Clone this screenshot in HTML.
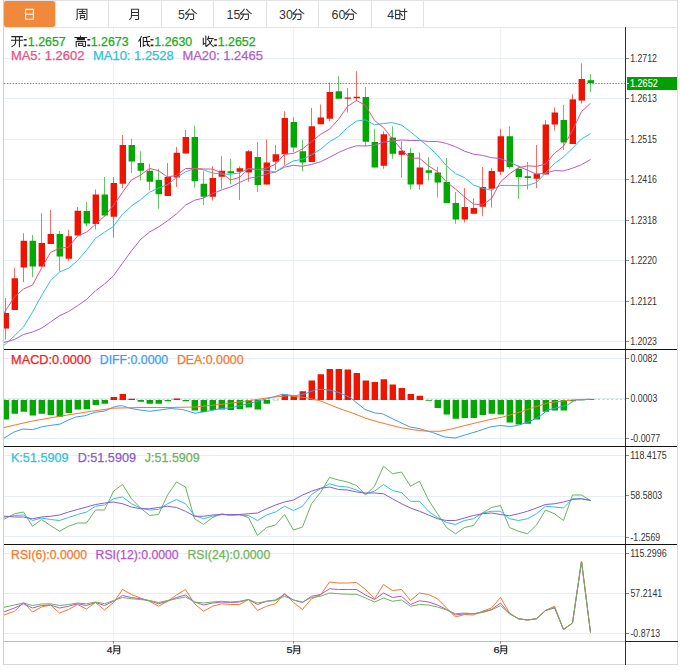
<!DOCTYPE html><html><head><meta charset="utf-8"><style>html,body{margin:0;padding:0;background:#fff;width:680px;height:672px;overflow:hidden}svg{display:block}</style></head><body><svg width="680" height="672" viewBox="0 0 680 672" font-family='"Liberation Sans", sans-serif' shape-rendering="auto">
<rect width="680" height="672" fill="#fff"/>
<line x1="3" y1="0.5" x2="678" y2="0.5" stroke="#e3e3e3"/>
<line x1="3.5" y1="0" x2="3.5" y2="665" stroke="#cfcfcf"/>
<line x1="677.5" y1="0" x2="677.5" y2="665" stroke="#dcdcdc"/>
<line x1="3" y1="664.5" x2="678" y2="664.5" stroke="#d8d8d8"/>
<rect x="4" y="1" width="51" height="26" rx="2" fill="#f0893c"/>
<line x1="55.5" y1="1" x2="55.5" y2="27" stroke="#e2e2e2"/>
<line x1="108.5" y1="1" x2="108.5" y2="27" stroke="#e2e2e2"/>
<line x1="161.5" y1="1" x2="161.5" y2="27" stroke="#e2e2e2"/>
<line x1="213.5" y1="1" x2="213.5" y2="27" stroke="#e2e2e2"/>
<line x1="266.5" y1="1" x2="266.5" y2="27" stroke="#e2e2e2"/>
<line x1="318.5" y1="1" x2="318.5" y2="27" stroke="#e2e2e2"/>
<line x1="371.5" y1="1" x2="371.5" y2="27" stroke="#e2e2e2"/>
<line x1="423.5" y1="1" x2="423.5" y2="27" stroke="#e2e2e2"/>
<line x1="3" y1="27.5" x2="678" y2="27.5" stroke="#e2e6ea"/>
<path transform="translate(25.1,8.9) scale(1.0,1.0)" d="M0.5,0.5H8.3V10.3H0.5Z M0.5,5.4H8.3" fill="none" stroke="#fff" stroke-width="1.1" stroke-linecap="square"/>
<path transform="translate(76.4,8.9) scale(1.0,1.0)" d="M0.8,0.4V9.2Q0.8,10.2 0,10.6 M0.8,0.4H10.5V10.2Q10.5,10.6 9.8,10.6H8.1 M3.1,2.5H8.4 M6,1.1V4.5 M2.6,4.6H9.1 M4,6.4V9.9 M4,6.6H8.1V8.7H4" fill="none" stroke="#333" stroke-width="1.05" stroke-linecap="square"/>
<path transform="translate(129.4,8.9) scale(1.0,1.0)" d="M2.1,0.4V7.1Q2.1,9.5 0.3,10.6 M2.1,0.4H9.1V10.2Q9.1,10.6 8.5,10.6H6.3 M2.1,3.6H9.1 M2.1,6.6H9.1" fill="none" stroke="#333" stroke-width="1.05" stroke-linecap="square"/>
<text x="178.1" y="18.8" fill="#333" font-size="12.4" text-anchor="start" >5</text>
<path transform="translate(185.2,8.9) scale(1.0,1.0)" d="M4.2,0.3Q2.5,3 0.4,4.3 M6.6,0.5Q8.5,3.3 11.3,4.7 M0.9,5.2H8.4V9.7Q8.4,10.5 7.4,10.5H5.2 M3.5,5.7Q3,8.8 0.4,10.6" fill="none" stroke="#333" stroke-width="1.05" stroke-linecap="square"/>
<text x="226.5" y="18.8" fill="#333" font-size="12.4" text-anchor="start" >15</text>
<path transform="translate(240.0,8.9) scale(1.0,1.0)" d="M4.2,0.3Q2.5,3 0.4,4.3 M6.6,0.5Q8.5,3.3 11.3,4.7 M0.9,5.2H8.4V9.7Q8.4,10.5 7.4,10.5H5.2 M3.5,5.7Q3,8.8 0.4,10.6" fill="none" stroke="#333" stroke-width="1.05" stroke-linecap="square"/>
<text x="279.0" y="18.8" fill="#333" font-size="12.4" text-anchor="start" >30</text>
<path transform="translate(292.5,8.9) scale(1.0,1.0)" d="M4.2,0.3Q2.5,3 0.4,4.3 M6.6,0.5Q8.5,3.3 11.3,4.7 M0.9,5.2H8.4V9.7Q8.4,10.5 7.4,10.5H5.2 M3.5,5.7Q3,8.8 0.4,10.6" fill="none" stroke="#333" stroke-width="1.05" stroke-linecap="square"/>
<text x="331.5" y="18.8" fill="#333" font-size="12.4" text-anchor="start" >60</text>
<path transform="translate(345.0,8.9) scale(1.0,1.0)" d="M4.2,0.3Q2.5,3 0.4,4.3 M6.6,0.5Q8.5,3.3 11.3,4.7 M0.9,5.2H8.4V9.7Q8.4,10.5 7.4,10.5H5.2 M3.5,5.7Q3,8.8 0.4,10.6" fill="none" stroke="#333" stroke-width="1.05" stroke-linecap="square"/>
<text x="387.3" y="18.8" fill="#333" font-size="12.4" text-anchor="start" >4</text>
<path transform="translate(395.1,9.1) scale(1.0,1.0)" d="M0.5,1.1H4.7V9.5H0.5Z M0.5,5.3H4.7 M5.3,2.3H11.7 M9.5,0V9.6Q9.5,10.3 8.8,10.3H6.6 M5.6,4.4L7.2,6.6" fill="none" stroke="#333" stroke-width="1.05" stroke-linecap="square"/>
<line x1="4" y1="58.5" x2="625" y2="58.5" stroke="#e6edf4"/>
<line x1="4" y1="98.5" x2="625" y2="98.5" stroke="#e6edf4"/>
<line x1="4" y1="139.5" x2="625" y2="139.5" stroke="#e6edf4"/>
<line x1="4" y1="179.5" x2="625" y2="179.5" stroke="#e6edf4"/>
<line x1="4" y1="220.5" x2="625" y2="220.5" stroke="#e6edf4"/>
<line x1="4" y1="260.5" x2="625" y2="260.5" stroke="#e6edf4"/>
<line x1="4" y1="301.5" x2="625" y2="301.5" stroke="#e6edf4"/>
<line x1="4" y1="341.5" x2="625" y2="341.5" stroke="#e6edf4"/>
<line x1="4" y1="358.5" x2="625" y2="358.5" stroke="#e6edf4"/>
<line x1="4" y1="438.5" x2="625" y2="438.5" stroke="#e6edf4"/>
<line x1="4" y1="455.5" x2="625" y2="455.5" stroke="#e6edf4"/>
<line x1="4" y1="496.5" x2="625" y2="496.5" stroke="#e6edf4"/>
<line x1="4" y1="536.5" x2="625" y2="536.5" stroke="#e6edf4"/>
<line x1="4" y1="553.5" x2="625" y2="553.5" stroke="#e6edf4"/>
<line x1="4" y1="593.5" x2="625" y2="593.5" stroke="#e6edf4"/>
<line x1="4" y1="633.5" x2="625" y2="633.5" stroke="#e6edf4"/>
<line x1="113.5" y1="28" x2="113.5" y2="641" stroke="#edf1f6"/>
<line x1="293.5" y1="28" x2="293.5" y2="641" stroke="#edf1f6"/>
<line x1="500.5" y1="28" x2="500.5" y2="641" stroke="#edf1f6"/>
<line x1="625.5" y1="27" x2="625.5" y2="665" stroke="#333"/>
<line x1="4" y1="349.5" x2="677" y2="349.5" stroke="#111"/>
<line x1="4" y1="446.5" x2="677" y2="446.5" stroke="#111"/>
<line x1="4" y1="544.5" x2="677" y2="544.5" stroke="#111"/>
<line x1="3" y1="641.5" x2="625" y2="641.5" stroke="#bbb"/>
<line x1="625" y1="641.5" x2="678" y2="641.5" stroke="#222"/>
<line x1="626" y1="58.5" x2="629" y2="58.5" stroke="#888"/>
<text x="630.13" y="62.0" fill="#333" stroke="#333" stroke-width="0" font-size="10" textLength="26.82" lengthAdjust="spacingAndGlyphs" >1.2712</text>
<line x1="626" y1="98.5" x2="629" y2="98.5" stroke="#888"/>
<text x="630.13" y="102.0" fill="#333" stroke="#333" stroke-width="0" font-size="10" textLength="26.82" lengthAdjust="spacingAndGlyphs" >1.2613</text>
<line x1="626" y1="139.5" x2="629" y2="139.5" stroke="#888"/>
<text x="630.13" y="142.5" fill="#333" stroke="#333" stroke-width="0" font-size="10" textLength="26.82" lengthAdjust="spacingAndGlyphs" >1.2515</text>
<line x1="626" y1="179.5" x2="629" y2="179.5" stroke="#888"/>
<text x="630.13" y="183.0" fill="#333" stroke="#333" stroke-width="0" font-size="10" textLength="26.82" lengthAdjust="spacingAndGlyphs" >1.2416</text>
<line x1="626" y1="220.5" x2="629" y2="220.5" stroke="#888"/>
<text x="630.13" y="223.5" fill="#333" stroke="#333" stroke-width="0" font-size="10" textLength="26.82" lengthAdjust="spacingAndGlyphs" >1.2318</text>
<line x1="626" y1="260.5" x2="629" y2="260.5" stroke="#888"/>
<text x="630.13" y="264.0" fill="#333" stroke="#333" stroke-width="0" font-size="10" textLength="26.82" lengthAdjust="spacingAndGlyphs" >1.2220</text>
<line x1="626" y1="301.5" x2="629" y2="301.5" stroke="#888"/>
<text x="630.13" y="304.5" fill="#333" stroke="#333" stroke-width="0" font-size="10" textLength="26.82" lengthAdjust="spacingAndGlyphs" >1.2121</text>
<line x1="626" y1="341.5" x2="629" y2="341.5" stroke="#888"/>
<text x="630.13" y="344.5" fill="#333" stroke="#333" stroke-width="0" font-size="10" textLength="26.82" lengthAdjust="spacingAndGlyphs" >1.2023</text>
<line x1="626" y1="358.5" x2="629" y2="358.5" stroke="#888"/>
<text x="630.46" y="361.7" fill="#333" stroke="#333" stroke-width="0" font-size="10" textLength="26.82" lengthAdjust="spacingAndGlyphs" >0.0082</text>
<line x1="626" y1="398.5" x2="629" y2="398.5" stroke="#888"/>
<text x="630.46" y="402.2" fill="#333" stroke="#333" stroke-width="0" font-size="10" textLength="26.82" lengthAdjust="spacingAndGlyphs" >0.0003</text>
<line x1="626" y1="438.5" x2="629" y2="438.5" stroke="#888"/>
<text x="630.41" y="442.2" fill="#333" stroke="#333" stroke-width="0" font-size="10" textLength="29.74" lengthAdjust="spacingAndGlyphs" >-0.0077</text>
<line x1="626" y1="455.5" x2="629" y2="455.5" stroke="#888"/>
<text x="630.13" y="458.9" fill="#333" stroke="#333" stroke-width="0" font-size="10" textLength="36.58" lengthAdjust="spacingAndGlyphs" >118.4175</text>
<line x1="626" y1="495.5" x2="629" y2="495.5" stroke="#888"/>
<text x="630.45" y="499.2" fill="#333" stroke="#333" stroke-width="0" font-size="10" textLength="31.70" lengthAdjust="spacingAndGlyphs" >58.5803</text>
<line x1="626" y1="537.5" x2="629" y2="537.5" stroke="#888"/>
<text x="630.41" y="540.5" fill="#333" stroke="#333" stroke-width="0" font-size="10" textLength="29.74" lengthAdjust="spacingAndGlyphs" >-1.2569</text>
<line x1="626" y1="553.5" x2="629" y2="553.5" stroke="#888"/>
<text x="630.13" y="556.7" fill="#333" stroke="#333" stroke-width="0" font-size="10" textLength="36.58" lengthAdjust="spacingAndGlyphs" >115.2996</text>
<line x1="626" y1="593.5" x2="629" y2="593.5" stroke="#888"/>
<text x="630.45" y="596.9" fill="#333" stroke="#333" stroke-width="0" font-size="10" textLength="31.70" lengthAdjust="spacingAndGlyphs" >57.2141</text>
<line x1="626" y1="633.5" x2="629" y2="633.5" stroke="#888"/>
<text x="630.41" y="636.5" fill="#333" stroke="#333" stroke-width="0" font-size="10" textLength="29.74" lengthAdjust="spacingAndGlyphs" >-0.8713</text>
<line x1="4" y1="83.5" x2="625" y2="83.5" stroke="#3cb83c" stroke-dasharray="1.5,1.37"/>
<rect x="627" y="77" width="50" height="13" fill="#00a000"/>
<line x1="626" y1="83.5" x2="629" y2="83.5" stroke="#fff"/>
<text x="630.11" y="87.0" fill="#fff" stroke="#fff" stroke-width="0.1" font-size="10" textLength="27.54" lengthAdjust="spacingAndGlyphs" >1.2652</text>
<line x1="5.5" y1="298" x2="5.5" y2="339.5" stroke="#f01400" stroke-opacity="0.62" stroke-width="1"/>
<rect x="4.00" y="313" width="5.00" height="15.50" fill="#f01400"/>
<line x1="14.5" y1="268" x2="14.5" y2="310" stroke="#f01400" stroke-opacity="0.62" stroke-width="1"/>
<rect x="11.60" y="278.25" width="6.40" height="31.75" fill="#f01400"/>
<line x1="23.5" y1="233.25" x2="23.5" y2="282" stroke="#f01400" stroke-opacity="0.62" stroke-width="1"/>
<rect x="20.60" y="240.75" width="6.40" height="26.75" fill="#f01400"/>
<line x1="32.5" y1="235" x2="32.5" y2="277" stroke="#00a800" stroke-opacity="0.62" stroke-width="1"/>
<rect x="29.60" y="240.75" width="6.40" height="25.75" fill="#00a800"/>
<line x1="41.5" y1="213.25" x2="41.5" y2="266.5" stroke="#f01400" stroke-opacity="0.62" stroke-width="1"/>
<rect x="38.60" y="243" width="6.40" height="23.50" fill="#f01400"/>
<line x1="50.5" y1="210" x2="50.5" y2="244" stroke="#f01400" stroke-opacity="0.62" stroke-width="1"/>
<rect x="47.60" y="234" width="6.40" height="10.00" fill="#f01400"/>
<line x1="59.5" y1="231" x2="59.5" y2="271.5" stroke="#00a800" stroke-opacity="0.62" stroke-width="1"/>
<rect x="56.60" y="234" width="6.40" height="22.50" fill="#00a800"/>
<line x1="68.5" y1="230" x2="68.5" y2="260.75" stroke="#f01400" stroke-opacity="0.62" stroke-width="1"/>
<rect x="65.60" y="236.25" width="6.40" height="22.50" fill="#f01400"/>
<line x1="77.5" y1="207" x2="77.5" y2="235.5" stroke="#f01400" stroke-opacity="0.62" stroke-width="1"/>
<rect x="74.60" y="210.75" width="6.40" height="24.75" fill="#f01400"/>
<line x1="86.5" y1="202" x2="86.5" y2="226.5" stroke="#00a800" stroke-opacity="0.62" stroke-width="1"/>
<rect x="83.60" y="211" width="6.40" height="12.50" fill="#00a800"/>
<line x1="95.5" y1="189.5" x2="95.5" y2="229.5" stroke="#f01400" stroke-opacity="0.62" stroke-width="1"/>
<rect x="92.60" y="194.5" width="6.40" height="29.50" fill="#f01400"/>
<line x1="104.5" y1="177" x2="104.5" y2="217" stroke="#00a800" stroke-opacity="0.62" stroke-width="1"/>
<rect x="101.60" y="194.5" width="6.40" height="21.00" fill="#00a800"/>
<line x1="113.5" y1="177" x2="113.5" y2="237.5" stroke="#f01400" stroke-opacity="0.62" stroke-width="1"/>
<rect x="110.60" y="183" width="6.40" height="33.75" fill="#f01400"/>
<line x1="122.5" y1="135" x2="122.5" y2="188" stroke="#f01400" stroke-opacity="0.62" stroke-width="1"/>
<rect x="119.60" y="145" width="6.40" height="38.75" fill="#f01400"/>
<line x1="131.5" y1="138.75" x2="131.5" y2="173" stroke="#00a800" stroke-opacity="0.62" stroke-width="1"/>
<rect x="128.60" y="145" width="6.40" height="16.50" fill="#00a800"/>
<line x1="140.5" y1="151.25" x2="140.5" y2="180.5" stroke="#00a800" stroke-opacity="0.62" stroke-width="1"/>
<rect x="137.60" y="163" width="6.40" height="7.75" fill="#00a800"/>
<line x1="149.5" y1="163.75" x2="149.5" y2="190.5" stroke="#00a800" stroke-opacity="0.62" stroke-width="1"/>
<rect x="146.60" y="170.75" width="6.40" height="11.00" fill="#00a800"/>
<line x1="158.5" y1="168.75" x2="158.5" y2="208.75" stroke="#00a800" stroke-opacity="0.62" stroke-width="1"/>
<rect x="155.60" y="180" width="6.40" height="14.25" fill="#00a800"/>
<line x1="167.5" y1="163" x2="167.5" y2="196" stroke="#f01400" stroke-opacity="0.62" stroke-width="1"/>
<rect x="164.60" y="177" width="6.40" height="19.00" fill="#f01400"/>
<line x1="176.5" y1="147" x2="176.5" y2="187" stroke="#f01400" stroke-opacity="0.62" stroke-width="1"/>
<rect x="173.60" y="152.75" width="6.40" height="24.75" fill="#f01400"/>
<line x1="185.5" y1="130" x2="185.5" y2="153.5" stroke="#f01400" stroke-opacity="0.62" stroke-width="1"/>
<rect x="182.60" y="137" width="6.40" height="16.50" fill="#f01400"/>
<line x1="194.5" y1="125.75" x2="194.5" y2="187.5" stroke="#00a800" stroke-opacity="0.62" stroke-width="1"/>
<rect x="191.60" y="137" width="6.40" height="44.20" fill="#00a800"/>
<line x1="203.5" y1="171.25" x2="203.5" y2="205" stroke="#00a800" stroke-opacity="0.62" stroke-width="1"/>
<rect x="200.60" y="183.75" width="6.40" height="13.00" fill="#00a800"/>
<line x1="212.5" y1="166.25" x2="212.5" y2="200.5" stroke="#f01400" stroke-opacity="0.62" stroke-width="1"/>
<rect x="209.60" y="178" width="6.40" height="18.75" fill="#f01400"/>
<line x1="221.5" y1="156.25" x2="221.5" y2="188.75" stroke="#f01400" stroke-opacity="0.62" stroke-width="1"/>
<rect x="218.60" y="170.75" width="6.40" height="6.00" fill="#f01400"/>
<line x1="230.5" y1="158.75" x2="230.5" y2="184.25" stroke="#00a800" stroke-opacity="0.62" stroke-width="1"/>
<rect x="227.60" y="171.25" width="6.40" height="2.00" fill="#00a800"/>
<line x1="239.5" y1="166.25" x2="239.5" y2="200" stroke="#f01400" stroke-opacity="0.62" stroke-width="1"/>
<rect x="236.60" y="168.25" width="6.40" height="3.50" fill="#f01400"/>
<line x1="248.5" y1="150" x2="248.5" y2="181.75" stroke="#f01400" stroke-opacity="0.62" stroke-width="1"/>
<rect x="245.60" y="151.25" width="6.40" height="21.25" fill="#f01400"/>
<line x1="257.5" y1="142" x2="257.5" y2="192" stroke="#00a800" stroke-opacity="0.62" stroke-width="1"/>
<rect x="254.60" y="157" width="6.40" height="28.00" fill="#00a800"/>
<line x1="266.5" y1="139.5" x2="266.5" y2="184.5" stroke="#f01400" stroke-opacity="0.62" stroke-width="1"/>
<rect x="263.60" y="162.5" width="6.40" height="22.00" fill="#f01400"/>
<line x1="275.5" y1="145" x2="275.5" y2="170" stroke="#f01400" stroke-opacity="0.62" stroke-width="1"/>
<rect x="272.60" y="154.25" width="6.40" height="7.50" fill="#f01400"/>
<line x1="284.5" y1="111.25" x2="284.5" y2="165" stroke="#f01400" stroke-opacity="0.62" stroke-width="1"/>
<rect x="281.60" y="118" width="6.40" height="36.25" fill="#f01400"/>
<line x1="293.5" y1="117" x2="293.5" y2="152.5" stroke="#00a800" stroke-opacity="0.62" stroke-width="1"/>
<rect x="290.60" y="122" width="6.40" height="25.50" fill="#00a800"/>
<line x1="302.5" y1="140" x2="302.5" y2="171.25" stroke="#00a800" stroke-opacity="0.62" stroke-width="1"/>
<rect x="299.60" y="151.25" width="6.40" height="11.25" fill="#00a800"/>
<line x1="311.5" y1="108" x2="311.5" y2="162" stroke="#f01400" stroke-opacity="0.62" stroke-width="1"/>
<rect x="308.60" y="126.25" width="6.40" height="35.75" fill="#f01400"/>
<line x1="320.5" y1="104.5" x2="320.5" y2="124.25" stroke="#f01400" stroke-opacity="0.62" stroke-width="1"/>
<rect x="317.60" y="117.5" width="6.40" height="6.75" fill="#f01400"/>
<line x1="329.5" y1="82.5" x2="329.5" y2="121.25" stroke="#f01400" stroke-opacity="0.62" stroke-width="1"/>
<rect x="326.60" y="92" width="6.40" height="26.75" fill="#f01400"/>
<line x1="338.5" y1="76.25" x2="338.5" y2="98.75" stroke="#00a800" stroke-opacity="0.62" stroke-width="1"/>
<rect x="335.60" y="91.25" width="6.40" height="7.50" fill="#00a800"/>
<line x1="347.5" y1="88" x2="347.5" y2="112.5" stroke="#f01400" stroke-opacity="0.62" stroke-width="1"/>
<rect x="344.60" y="97.5" width="6.40" height="1.25" fill="#f01400"/>
<line x1="356.5" y1="71.25" x2="356.5" y2="101.25" stroke="#f01400" stroke-opacity="0.62" stroke-width="1"/>
<rect x="353.60" y="96.75" width="6.40" height="1.50" fill="#f01400"/>
<line x1="365.5" y1="87" x2="365.5" y2="146.25" stroke="#00a800" stroke-opacity="0.62" stroke-width="1"/>
<rect x="362.60" y="97" width="6.40" height="44.75" fill="#00a800"/>
<line x1="374.5" y1="128.75" x2="374.5" y2="167.5" stroke="#00a800" stroke-opacity="0.62" stroke-width="1"/>
<rect x="371.60" y="142" width="6.40" height="25.50" fill="#00a800"/>
<line x1="383.5" y1="131.25" x2="383.5" y2="168.75" stroke="#f01400" stroke-opacity="0.62" stroke-width="1"/>
<rect x="380.60" y="134.25" width="6.40" height="31.50" fill="#f01400"/>
<line x1="392.5" y1="126.25" x2="392.5" y2="158.75" stroke="#00a800" stroke-opacity="0.62" stroke-width="1"/>
<rect x="389.60" y="137.5" width="6.40" height="16.25" fill="#00a800"/>
<line x1="401.5" y1="141.25" x2="401.5" y2="177.5" stroke="#f01400" stroke-opacity="0.62" stroke-width="1"/>
<rect x="398.60" y="150.8" width="6.40" height="4.00" fill="#f01400"/>
<line x1="410.5" y1="148" x2="410.5" y2="189.5" stroke="#00a800" stroke-opacity="0.62" stroke-width="1"/>
<rect x="407.60" y="153" width="6.40" height="31.50" fill="#00a800"/>
<line x1="419.5" y1="152.5" x2="419.5" y2="189.5" stroke="#f01400" stroke-opacity="0.62" stroke-width="1"/>
<rect x="416.60" y="167.5" width="6.40" height="17.00" fill="#f01400"/>
<line x1="428.5" y1="157" x2="428.5" y2="180.5" stroke="#00a800" stroke-opacity="0.62" stroke-width="1"/>
<rect x="425.60" y="170.3" width="6.40" height="2.50" fill="#00a800"/>
<line x1="437.5" y1="167" x2="437.5" y2="197.5" stroke="#00a800" stroke-opacity="0.62" stroke-width="1"/>
<rect x="434.60" y="172.5" width="6.40" height="10.00" fill="#00a800"/>
<line x1="446.5" y1="158" x2="446.5" y2="203" stroke="#00a800" stroke-opacity="0.62" stroke-width="1"/>
<rect x="443.60" y="182" width="6.40" height="21.00" fill="#00a800"/>
<line x1="455.5" y1="192" x2="455.5" y2="223.75" stroke="#00a800" stroke-opacity="0.62" stroke-width="1"/>
<rect x="452.60" y="203" width="6.40" height="16.50" fill="#00a800"/>
<line x1="464.5" y1="188" x2="464.5" y2="222.5" stroke="#f01400" stroke-opacity="0.62" stroke-width="1"/>
<rect x="461.60" y="207" width="6.40" height="12.50" fill="#f01400"/>
<line x1="473.5" y1="198.25" x2="473.5" y2="213.75" stroke="#f01400" stroke-opacity="0.62" stroke-width="1"/>
<rect x="470.60" y="208" width="6.40" height="5.75" fill="#f01400"/>
<line x1="482.5" y1="167" x2="482.5" y2="216.25" stroke="#f01400" stroke-opacity="0.62" stroke-width="1"/>
<rect x="479.60" y="187" width="6.40" height="19.75" fill="#f01400"/>
<line x1="491.5" y1="168" x2="491.5" y2="207.5" stroke="#f01400" stroke-opacity="0.62" stroke-width="1"/>
<rect x="488.60" y="171" width="6.40" height="17.75" fill="#f01400"/>
<line x1="500.5" y1="128.75" x2="500.5" y2="175" stroke="#f01400" stroke-opacity="0.62" stroke-width="1"/>
<rect x="497.60" y="136.25" width="6.40" height="35.50" fill="#f01400"/>
<line x1="509.5" y1="126.25" x2="509.5" y2="168.75" stroke="#00a800" stroke-opacity="0.62" stroke-width="1"/>
<rect x="506.60" y="136.25" width="6.40" height="30.75" fill="#00a800"/>
<line x1="518.5" y1="165.5" x2="518.5" y2="198.75" stroke="#00a800" stroke-opacity="0.62" stroke-width="1"/>
<rect x="515.60" y="168.75" width="6.40" height="8.25" fill="#00a800"/>
<line x1="527.5" y1="162" x2="527.5" y2="189.5" stroke="#00a800" stroke-opacity="0.62" stroke-width="1"/>
<rect x="524.60" y="176.25" width="6.40" height="1.75" fill="#00a800"/>
<line x1="536.5" y1="145" x2="536.5" y2="188" stroke="#f01400" stroke-opacity="0.62" stroke-width="1"/>
<rect x="533.60" y="173.75" width="6.40" height="5.00" fill="#f01400"/>
<line x1="545.5" y1="120" x2="545.5" y2="174.5" stroke="#f01400" stroke-opacity="0.62" stroke-width="1"/>
<rect x="542.60" y="124.5" width="6.40" height="50.00" fill="#f01400"/>
<line x1="554.5" y1="107.5" x2="554.5" y2="130.5" stroke="#f01400" stroke-opacity="0.62" stroke-width="1"/>
<rect x="551.60" y="112.5" width="6.40" height="12.00" fill="#f01400"/>
<line x1="563.5" y1="104.8" x2="563.5" y2="150" stroke="#00a800" stroke-opacity="0.62" stroke-width="1"/>
<rect x="560.60" y="120" width="6.40" height="22.50" fill="#00a800"/>
<line x1="572.5" y1="94.2" x2="572.5" y2="144" stroke="#f01400" stroke-opacity="0.62" stroke-width="1"/>
<rect x="569.60" y="99.4" width="6.40" height="44.60" fill="#f01400"/>
<line x1="581.5" y1="63.4" x2="581.5" y2="103.6" stroke="#f01400" stroke-opacity="0.62" stroke-width="1"/>
<rect x="578.60" y="79" width="6.40" height="21.60" fill="#f01400"/>
<line x1="590.5" y1="74.1" x2="590.5" y2="92" stroke="#00a800" stroke-opacity="0.62" stroke-width="1"/>
<rect x="587.60" y="80.2" width="6.40" height="2.80" fill="#00a800"/>
<polyline points="4.00,342.42 14.50,339.50 23.50,334.50 32.50,332.00 41.50,328.25 50.50,322.00 59.50,315.75 68.50,311.50 77.50,305.75 86.50,299.50 95.50,290.75 104.50,284.00 113.50,275.75 122.50,263.25 131.50,250.75 140.50,239.50 149.50,232.00 158.50,227.00 167.50,220.75 176.50,213.93 185.50,205.12 194.50,200.27 203.50,198.07 212.50,193.65 221.50,190.03 230.50,187.00 239.50,182.58 248.50,178.33 257.50,177.05 266.50,174.00 275.50,171.98 284.50,167.11 293.50,165.33 302.50,166.21 311.50,164.45 320.50,161.78 329.50,157.30 338.50,152.52 347.50,148.55 356.50,145.75 365.50,145.98 374.50,145.30 383.50,142.18 392.50,140.96 401.50,139.97 410.50,140.53 419.50,140.49 428.50,141.57 437.50,141.44 446.50,143.47 455.50,146.73 464.50,151.18 473.50,154.20 482.50,155.43 491.50,157.67 500.50,158.60 509.50,162.35 518.50,166.27 527.50,170.29 536.50,174.14 545.50,173.28 554.50,170.53 563.50,170.94 572.50,168.22 581.50,164.64 590.50,159.56" fill="none" stroke="#b45ccc" stroke-width="1"/>
<polyline points="4.00,345.38 14.50,335.75 23.50,327.00 32.50,312.00 41.50,295.75 50.50,280.75 59.50,272.00 68.50,268.25 77.50,260.75 86.50,250.25 95.50,238.40 104.50,232.12 113.50,226.35 122.50,214.20 131.50,206.05 140.50,199.72 149.50,192.25 158.50,188.05 167.50,184.68 176.50,177.60 185.50,171.85 194.50,168.42 203.50,169.80 212.50,173.09 221.50,174.02 230.50,174.27 239.50,172.92 248.50,168.62 257.50,169.42 266.50,170.40 275.50,172.12 284.50,165.80 293.50,160.88 302.50,159.32 311.50,154.88 320.50,149.30 329.50,141.68 338.50,136.43 347.50,127.67 356.50,121.10 365.50,119.85 374.50,124.80 383.50,123.47 392.50,122.60 401.50,125.05 410.50,131.75 419.50,139.31 428.50,146.71 437.50,155.21 446.50,165.83 455.50,173.61 464.50,177.56 473.50,184.94 482.50,188.26 491.50,190.28 500.50,185.45 509.50,185.41 518.50,185.82 527.50,185.38 536.50,182.45 545.50,172.95 554.50,163.50 563.50,156.95 572.50,148.19 581.50,138.99 590.50,133.67" fill="none" stroke="#2fc1dc" stroke-width="1"/>
<polyline points="4.00,313.04 14.50,297.00 23.50,289.00 32.50,285.00 41.50,268.30 50.50,252.50 59.50,248.15 68.50,247.25 77.50,236.10 86.50,232.20 95.50,224.30 104.50,216.10 113.50,205.45 122.50,192.30 131.50,179.90 140.50,175.15 149.50,168.40 158.50,170.65 167.50,177.05 176.50,175.30 185.50,168.55 194.50,168.44 203.50,168.94 212.50,169.14 221.50,172.74 230.50,179.99 239.50,177.40 248.50,168.30 257.50,169.70 266.50,168.05 275.50,164.25 284.50,154.20 293.50,153.45 302.50,148.95 311.50,141.70 320.50,134.35 329.50,129.15 338.50,119.40 347.50,106.40 356.50,100.50 365.50,105.35 374.50,120.45 383.50,127.55 392.50,138.80 401.50,149.61 410.50,158.16 419.50,158.16 428.50,165.87 437.50,171.62 446.50,182.06 455.50,189.06 464.50,196.96 473.50,204.00 482.50,204.90 491.50,198.50 500.50,181.85 509.50,173.85 518.50,167.65 527.50,165.85 536.50,166.40 545.50,164.05 554.50,153.15 563.50,146.25 572.50,130.53 581.50,111.58 590.50,103.28" fill="none" stroke="#ea4f82" stroke-width="1"/>
<line x1="4" y1="398.5" x2="625" y2="398.5" stroke="#e6edf4"/>
<line x1="4" y1="399.5" x2="625" y2="399.5" stroke="#a6d6f2" stroke-dasharray="2,2.4"/>
<rect x="4.00" y="400" width="5.00" height="19.50" fill="#00a800"/>
<rect x="11.60" y="400" width="6.40" height="13.75" fill="#00a800"/>
<rect x="20.60" y="400" width="6.40" height="11.75" fill="#00a800"/>
<rect x="29.60" y="400" width="6.40" height="15.50" fill="#00a800"/>
<rect x="38.60" y="400" width="6.40" height="13.75" fill="#00a800"/>
<rect x="47.60" y="400" width="6.40" height="15.00" fill="#00a800"/>
<rect x="56.60" y="400" width="6.40" height="16.75" fill="#00a800"/>
<rect x="65.60" y="400" width="6.40" height="13.00" fill="#00a800"/>
<rect x="74.60" y="400" width="6.40" height="9.50" fill="#00a800"/>
<rect x="83.60" y="400" width="6.40" height="9.25" fill="#00a800"/>
<rect x="92.60" y="400" width="6.40" height="5.00" fill="#00a800"/>
<rect x="101.60" y="400" width="6.40" height="3.75" fill="#00a800"/>
<rect x="110.60" y="397" width="6.40" height="3.00" fill="#f01400"/>
<rect x="119.60" y="394" width="6.40" height="6.00" fill="#f01400"/>
<rect x="128.60" y="398.75" width="6.40" height="1.25" fill="#f01400"/>
<rect x="137.60" y="400" width="6.40" height="1.75" fill="#00a800"/>
<rect x="146.60" y="400" width="6.40" height="3.75" fill="#00a800"/>
<rect x="155.60" y="400" width="6.40" height="3.75" fill="#00a800"/>
<rect x="164.60" y="400" width="6.40" height="1.25" fill="#00a800"/>
<rect x="173.60" y="398.5" width="6.40" height="1.50" fill="#f01400"/>
<rect x="182.60" y="400" width="6.40" height="1.25" fill="#00a800"/>
<rect x="191.60" y="400" width="6.40" height="10.50" fill="#00a800"/>
<rect x="200.60" y="400" width="6.40" height="12.00" fill="#00a800"/>
<rect x="209.60" y="400" width="6.40" height="10.00" fill="#00a800"/>
<rect x="218.60" y="400" width="6.40" height="9.50" fill="#00a800"/>
<rect x="227.60" y="400" width="6.40" height="10.00" fill="#00a800"/>
<rect x="236.60" y="400" width="6.40" height="9.25" fill="#00a800"/>
<rect x="245.60" y="400" width="6.40" height="7.50" fill="#00a800"/>
<rect x="254.60" y="400" width="6.40" height="9.50" fill="#00a800"/>
<rect x="263.60" y="400" width="6.40" height="3.75" fill="#00a800"/>
<rect x="272.60" y="400" width="6.40" height="0.20" fill="#00a800"/>
<rect x="281.60" y="394.5" width="6.40" height="5.50" fill="#f01400"/>
<rect x="290.60" y="395.75" width="6.40" height="4.25" fill="#f01400"/>
<rect x="299.60" y="391.25" width="6.40" height="8.75" fill="#f01400"/>
<rect x="308.60" y="380.5" width="6.40" height="19.50" fill="#f01400"/>
<rect x="317.60" y="374.25" width="6.40" height="25.75" fill="#f01400"/>
<rect x="326.60" y="369" width="6.40" height="31.00" fill="#f01400"/>
<rect x="335.60" y="369" width="6.40" height="31.00" fill="#f01400"/>
<rect x="344.60" y="369.5" width="6.40" height="30.50" fill="#f01400"/>
<rect x="353.60" y="373" width="6.40" height="27.00" fill="#f01400"/>
<rect x="362.60" y="380.5" width="6.40" height="19.50" fill="#f01400"/>
<rect x="371.60" y="382" width="6.40" height="18.00" fill="#f01400"/>
<rect x="380.60" y="379.25" width="6.40" height="20.75" fill="#f01400"/>
<rect x="389.60" y="384.5" width="6.40" height="15.50" fill="#f01400"/>
<rect x="398.60" y="388" width="6.40" height="12.00" fill="#f01400"/>
<rect x="407.60" y="394" width="6.40" height="6.00" fill="#f01400"/>
<rect x="416.60" y="395.75" width="6.40" height="4.25" fill="#f01400"/>
<rect x="425.60" y="400" width="6.40" height="0.75" fill="#00a800"/>
<rect x="434.60" y="400" width="6.40" height="8.00" fill="#00a800"/>
<rect x="443.60" y="400" width="6.40" height="14.50" fill="#00a800"/>
<rect x="452.60" y="400" width="6.40" height="18.75" fill="#00a800"/>
<rect x="461.60" y="400" width="6.40" height="18.00" fill="#00a800"/>
<rect x="470.60" y="400" width="6.40" height="18.00" fill="#00a800"/>
<rect x="479.60" y="400" width="6.40" height="15.00" fill="#00a800"/>
<rect x="488.60" y="400" width="6.40" height="13.75" fill="#00a800"/>
<rect x="497.60" y="400" width="6.40" height="14.50" fill="#00a800"/>
<rect x="506.60" y="400" width="6.40" height="22.50" fill="#00a800"/>
<rect x="515.60" y="400" width="6.40" height="24.50" fill="#00a800"/>
<rect x="524.60" y="400" width="6.40" height="23.75" fill="#00a800"/>
<rect x="533.60" y="400" width="6.40" height="19.50" fill="#00a800"/>
<rect x="542.60" y="400" width="6.40" height="11.75" fill="#00a800"/>
<rect x="551.60" y="400" width="6.40" height="10.50" fill="#00a800"/>
<rect x="560.60" y="400" width="6.40" height="10.50" fill="#00a800"/>
<rect x="569.60" y="400" width="6.40" height="1.25" fill="#00a800"/>
<rect x="578.60" y="400" width="6.40" height="0.30" fill="#00a800"/>
<rect x="587.60" y="399.2" width="6.40" height="0.80" fill="#f01400"/>
<polyline points="3.90,438.20 14.10,432.00 22.90,429.00 32.60,429.70 42.30,426.70 51.10,425.30 60.00,424.10 67.00,420.60 75.80,417.00 84.70,415.80 95.20,412.30 104.00,411.20 112.90,407.30 118.00,406.00 122.50,405.75 130.00,408.25 140.00,410.00 150.00,411.25 160.00,410.00 170.00,408.50 182.50,409.50 195.00,413.25 207.50,411.25 220.00,408.75 232.50,407.50 245.00,404.50 257.50,401.25 270.00,398.00 282.50,394.25 295.00,395.75 305.00,393.75 315.00,390.00 322.50,389.25 332.50,390.50 340.00,393.00 350.00,397.50 365.00,409.50 375.00,413.00 382.50,413.75 395.00,420.00 410.00,427.00 420.00,428.75 432.50,432.50 445.00,437.00 455.00,438.00 465.00,435.00 477.50,431.25 490.00,427.00 500.00,425.50 510.00,426.50 517.50,425.50 530.00,421.25 540.00,416.25 547.50,410.00 560.00,407.00 567.50,405.00 575.00,400.00 590.50,399.25" fill="none" stroke="#3c9ef0" stroke-width="1"/>
<polyline points="3.75,427.60 30.00,421.50 60.00,416.20 90.00,411.50 113.50,408.20 140.00,407.50 170.00,407.50 195.00,407.00 220.00,404.50 245.00,401.25 270.00,397.50 287.50,395.75 305.00,397.50 320.00,400.75 340.00,408.75 352.50,413.00 365.00,418.00 377.50,421.75 390.00,425.00 402.50,428.00 415.00,430.00 427.50,431.25 440.00,431.25 452.50,428.75 465.00,425.50 477.50,422.50 490.00,419.50 502.50,417.00 510.00,415.00 522.50,411.25 535.00,407.00 547.50,403.00 560.00,401.25 572.50,400.00 590.50,399.25" fill="none" stroke="#f5782a" stroke-width="1"/>
<polyline points="4.00,519.29 14.50,513.75 23.50,512.00 32.50,526.25 41.50,519.50 50.50,525.50 59.50,531.25 68.50,526.25 77.50,523.00 86.50,523.00 95.50,510.00 104.50,510.00 113.50,491.25 122.50,484.50 131.50,498.75 140.50,508.00 149.50,515.50 158.50,514.50 167.50,495.00 176.50,482.00 185.50,487.00 194.50,518.75 203.50,524.50 212.50,517.50 221.50,513.75 230.50,515.50 239.50,514.50 248.50,517.50 257.50,535.50 266.50,527.50 275.50,525.00 284.50,514.50 293.50,530.00 302.50,527.00 311.50,503.75 320.50,492.50 329.50,477.50 338.50,480.00 347.50,482.00 356.50,485.50 365.50,495.00 374.50,486.25 383.50,466.25 392.50,473.75 401.50,472.00 410.50,486.25 419.50,481.25 428.50,500.00 437.50,513.75 446.50,527.50 455.50,533.75 464.50,527.50 473.50,525.50 482.50,513.00 491.50,507.50 500.50,505.50 509.50,527.50 518.50,531.25 527.50,533.75 536.50,525.00 545.50,510.00 554.50,513.75 563.50,520.50 572.50,495.00 581.50,495.00 590.50,500.50" fill="none" stroke="#6cb45c" stroke-width="1"/>
<polyline points="4.00,517.25 14.50,515.50 23.50,515.00 32.50,520.50 41.50,518.00 50.50,519.50 59.50,520.50 68.50,517.50 77.50,514.50 86.50,512.00 95.50,506.25 104.50,505.00 113.50,498.75 122.50,497.00 131.50,503.75 140.50,508.00 149.50,510.00 158.50,509.50 167.50,503.75 176.50,499.50 185.50,503.75 194.50,515.50 203.50,518.75 212.50,516.25 221.50,514.50 230.50,515.00 239.50,515.00 248.50,515.50 257.50,520.50 266.50,515.00 275.50,512.00 284.50,506.25 293.50,510.50 302.50,506.25 311.50,494.50 320.50,488.75 329.50,483.75 338.50,486.25 347.50,487.00 356.50,490.00 365.50,493.75 374.50,491.25 383.50,484.50 392.50,490.50 401.50,492.50 410.50,501.25 419.50,501.25 428.50,511.25 437.50,517.50 446.50,522.50 455.50,524.50 464.50,520.50 473.50,518.75 482.50,513.00 491.50,511.25 500.50,511.25 509.50,518.75 518.50,520.50 527.50,518.75 536.50,513.75 545.50,506.25 554.50,507.00 563.50,508.00 572.50,498.75 581.50,498.75 590.50,500.50" fill="none" stroke="#30c0dc" stroke-width="1"/>
<polyline points="4.00,516.12 14.50,517.00 23.50,517.00 32.50,518.75 41.50,517.00 50.50,516.25 59.50,515.00 68.50,512.00 77.50,509.50 86.50,507.00 95.50,504.50 104.50,503.00 113.50,502.00 122.50,503.75 131.50,507.00 140.50,508.75 149.50,508.75 158.50,507.50 167.50,506.25 176.50,507.50 185.50,511.25 194.50,516.25 203.50,516.25 212.50,515.00 221.50,514.50 230.50,514.50 239.50,514.50 248.50,513.75 257.50,513.00 266.50,508.75 275.50,505.00 284.50,502.00 293.50,500.00 302.50,495.00 311.50,491.25 320.50,488.25 329.50,487.00 338.50,489.50 347.50,490.00 356.50,492.00 365.50,493.00 374.50,493.00 383.50,493.75 392.50,498.75 401.50,503.75 410.50,508.00 419.50,511.25 428.50,515.00 437.50,518.75 446.50,520.50 455.50,520.50 464.50,518.00 473.50,515.50 482.50,513.75 491.50,513.00 500.50,514.50 509.50,515.75 518.50,513.75 527.50,511.25 536.50,508.00 545.50,504.50 554.50,503.75 563.50,502.00 572.50,499.50 581.50,498.75 590.50,500.50" fill="none" stroke="#8a5ad2" stroke-width="1"/>
<polyline points="4.00,615.04 14.50,611.25 23.50,602.50 32.50,612.00 41.50,607.00 50.50,605.00 59.50,613.00 68.50,609.50 77.50,604.50 86.50,609.00 95.50,602.50 104.50,610.00 113.50,602.50 122.50,589.50 131.50,594.50 140.50,598.00 149.50,601.25 158.50,606.25 167.50,601.25 176.50,595.00 185.50,589.50 194.50,603.75 203.50,611.25 212.50,606.25 221.50,603.75 230.50,604.50 239.50,604.50 248.50,599.50 257.50,610.50 266.50,606.25 275.50,603.75 284.50,593.25 293.50,602.50 302.50,609.50 311.50,598.75 320.50,595.00 329.50,582.00 338.50,583.00 347.50,583.00 356.50,582.50 365.50,589.50 374.50,598.75 383.50,584.50 392.50,590.50 401.50,589.50 410.50,600.50 419.50,593.00 428.50,594.50 437.50,598.75 446.50,608.00 455.50,617.00 464.50,614.50 473.50,615.00 482.50,611.25 491.50,608.00 500.50,597.50 509.50,613.00 518.50,618.75 527.50,620.00 536.50,618.75 545.50,610.50 554.50,606.25 563.50,629.50 572.50,623.00 581.50,561.25 590.50,632.50" fill="none" stroke="#f5782a" stroke-width="1"/>
<polyline points="4.00,611.79 14.50,608.00 23.50,603.75 32.50,608.00 41.50,605.50 50.50,605.00 59.50,608.00 68.50,606.25 77.50,603.75 86.50,605.50 95.50,602.50 104.50,605.50 113.50,601.25 122.50,595.50 131.50,597.50 140.50,598.75 149.50,600.75 158.50,603.75 167.50,601.25 176.50,597.50 185.50,595.00 194.50,602.00 203.50,605.00 212.50,603.00 221.50,602.00 230.50,602.50 239.50,602.00 248.50,599.50 257.50,604.50 266.50,601.25 275.50,600.00 284.50,594.50 293.50,600.00 302.50,602.50 311.50,596.25 320.50,594.50 329.50,588.75 338.50,589.50 347.50,589.50 356.50,589.50 365.50,595.00 374.50,599.50 383.50,593.00 392.50,597.50 401.50,596.25 410.50,604.50 419.50,600.75 428.50,602.00 437.50,605.00 446.50,609.50 455.50,615.00 464.50,613.75 473.50,613.75 482.50,612.00 491.50,609.50 500.50,603.00 509.50,613.75 518.50,618.75 527.50,620.00 536.50,618.75 545.50,610.50 554.50,608.00 563.50,629.50 572.50,623.00 581.50,561.25 590.50,632.50" fill="none" stroke="#b454cc" stroke-width="1"/>
<polyline points="4.00,607.33 14.50,605.00 23.50,603.00 32.50,605.50 41.50,604.00 50.50,603.75 59.50,605.50 68.50,604.50 77.50,603.00 86.50,603.75 95.50,602.00 104.50,603.75 113.50,600.50 122.50,597.50 131.50,598.75 140.50,599.50 149.50,600.50 158.50,602.50 167.50,600.50 176.50,598.75 185.50,597.00 194.50,602.00 203.50,603.00 212.50,602.00 221.50,601.25 230.50,602.00 239.50,601.25 248.50,599.50 257.50,603.00 266.50,601.25 275.50,600.50 284.50,596.25 293.50,600.00 302.50,602.00 311.50,597.50 320.50,596.25 329.50,593.00 338.50,593.75 347.50,594.25 356.50,594.25 365.50,598.00 374.50,602.00 383.50,598.00 392.50,601.25 401.50,600.00 410.50,606.25 419.50,604.50 428.50,605.00 437.50,607.00 446.50,610.00 455.50,613.75 464.50,613.00 473.50,613.75 482.50,612.50 491.50,610.00 500.50,605.50 509.50,613.75 518.50,618.75 527.50,620.00 536.50,618.75 545.50,610.50 554.50,607.00 563.50,629.50 572.50,623.00 581.50,561.25 590.50,632.50" fill="none" stroke="#6cb45c" stroke-width="1"/>
<path transform="translate(11.5,36.0) scale(1.0,1.0)" d="M0.3,0.6H10.9 M0,4.2H11.1 M4.1,0.6V6.5Q4,9 0.5,10.6 M7.9,0.6V10.6" fill="none" stroke="#222" stroke-width="1.05" stroke-linecap="square"/>
<text x="22.09" y="45.5" fill="#222" stroke="#222" stroke-width="0.25" font-size="12" textLength="6.42" lengthAdjust="spacingAndGlyphs" >:</text>
<text x="27.86" y="45.5" fill="#17ad17" stroke="#17ad17" stroke-width="0.25" font-size="12" textLength="37.76" lengthAdjust="spacingAndGlyphs" >1.2657</text>
<path transform="translate(74.9,36.0) scale(1.0,1.0)" d="M5.6,0V1.3 M0,1.4H11.7 M2.4,2.6H9.5V3.7H2.4Z M1.3,10.7V5.5H10.6V10.1Q10.6,10.5 10,10.5H8.5 M3.7,7.3H7.9V9.4H3.7Z" fill="none" stroke="#222" stroke-width="1.05" stroke-linecap="square"/>
<text x="85.49" y="45.5" fill="#222" stroke="#222" stroke-width="0.25" font-size="12" textLength="6.42" lengthAdjust="spacingAndGlyphs" >:</text>
<text x="90.66" y="45.5" fill="#17ad17" stroke="#17ad17" stroke-width="0.25" font-size="12" textLength="37.89" lengthAdjust="spacingAndGlyphs" >1.2673</text>
<path transform="translate(138.5,36.0) scale(1.0,1.0)" d="M2.9,0.4Q2,2.6 0.3,5.1 M2,3.3V10.7 M4.8,1.4Q8.5,1.2 11.1,0.4 M4.8,1.4V10.2L6.5,9.3 M4.8,5.5H11.4 M7.9,1.4Q8.3,8 11,10.6 M8.5,8.6L9.6,9.5" fill="none" stroke="#222" stroke-width="1.05" stroke-linecap="square"/>
<text x="148.89" y="45.5" fill="#222" stroke="#222" stroke-width="0.25" font-size="12" textLength="6.42" lengthAdjust="spacingAndGlyphs" >:</text>
<text x="154.36" y="45.5" fill="#17ad17" stroke="#17ad17" stroke-width="0.25" font-size="12" textLength="37.83" lengthAdjust="spacingAndGlyphs" >1.2630</text>
<path transform="translate(202.4,36.0) scale(1.0,1.0)" d="M0.9,2.2V8.3L2.3,7.6 M3.4,0.1V10.2H4.4 M6.3,0.4Q5.6,2.5 5.0,3.5 M5.8,2.4H10.8 M9.6,3.8Q8.3,7.8 3.9,10.2 M6.2,4.1Q8,8.3 10.8,10.4" fill="none" stroke="#222" stroke-width="1.05" stroke-linecap="square"/>
<text x="212.19" y="45.5" fill="#222" stroke="#222" stroke-width="0.25" font-size="12" textLength="6.42" lengthAdjust="spacingAndGlyphs" >:</text>
<text x="217.65" y="45.5" fill="#17ad17" stroke="#17ad17" stroke-width="0.25" font-size="12" textLength="37.97" lengthAdjust="spacingAndGlyphs" >1.2652</text>
<text x="10.94" y="59.8" fill="#ea4f82" stroke="#ea4f82" stroke-width="0.25" font-size="12.5" textLength="73.41" lengthAdjust="spacingAndGlyphs" >MA5: 1.2602</text>
<text x="92.94" y="59.8" fill="#2fc1dc" stroke="#2fc1dc" stroke-width="0.25" font-size="12.5" textLength="80.83" lengthAdjust="spacingAndGlyphs" >MA10: 1.2528</text>
<text x="182.44" y="59.8" fill="#b45ccc" stroke="#b45ccc" stroke-width="0.25" font-size="12.5" textLength="80.40" lengthAdjust="spacingAndGlyphs" >MA20: 1.2465</text>
<text x="11.06" y="363.7" fill="#f01c1c" stroke="#f01c1c" stroke-width="0.25" font-size="12.5" textLength="79.94" lengthAdjust="spacingAndGlyphs" >MACD:0.0000</text>
<text x="99.79" y="363.7" fill="#3c9ef0" stroke="#3c9ef0" stroke-width="0.25" font-size="12.5" textLength="68.39" lengthAdjust="spacingAndGlyphs" >DIFF:0.0000</text>
<text x="176.89" y="363.7" fill="#f5782a" stroke="#f5782a" stroke-width="0.25" font-size="12.5" textLength="66.70" lengthAdjust="spacingAndGlyphs" >DEA:0.0000</text>
<text x="10.96" y="461.6" fill="#30c0dc" stroke="#30c0dc" stroke-width="0.25" font-size="12.5" textLength="57.53" lengthAdjust="spacingAndGlyphs" >K:51.5909</text>
<text x="77.66" y="461.6" fill="#8a5ad2" stroke="#8a5ad2" stroke-width="0.25" font-size="12.5" textLength="58.34" lengthAdjust="spacingAndGlyphs" >D:51.5909</text>
<text x="144.80" y="461.6" fill="#6cb45c" stroke="#6cb45c" stroke-width="0.25" font-size="12.5" textLength="54.89" lengthAdjust="spacingAndGlyphs" >J:51.5909</text>
<text x="11.10" y="558.8" fill="#f5782a" stroke="#f5782a" stroke-width="0.25" font-size="12.5" textLength="75.98" lengthAdjust="spacingAndGlyphs" >RSI(6):0.0000</text>
<text x="95.60" y="558.8" fill="#b454cc" stroke="#b454cc" stroke-width="0.25" font-size="12.5" textLength="83.08" lengthAdjust="spacingAndGlyphs" >RSI(12):0.0000</text>
<text x="187.50" y="558.8" fill="#6cb45c" stroke="#6cb45c" stroke-width="0.25" font-size="12.5" textLength="82.68" lengthAdjust="spacingAndGlyphs" >RSI(24):0.0000</text>
<line x1="113.5" y1="641" x2="113.5" y2="643.6" stroke="#8a8a8a"/>
<text x="106.77" y="652.7" fill="#222" stroke="#222" stroke-width="0.25" font-size="9.6" textLength="5.63" lengthAdjust="spacingAndGlyphs" >4</text>
<path transform="translate(113.0,645.4) scale(1.0,1.0)" d="M1.1,0.4V6Q1.1,7.6 0.2,8.5 M1.1,0.5H6.7V8Q6.7,8.3 6.2,8.3H4.5 M1.1,3.3H6.7 M1.1,5.4H6.7" fill="none" stroke="#222" stroke-width="1.0" stroke-linecap="square"/>
<line x1="293.5" y1="641" x2="293.5" y2="643.6" stroke="#8a8a8a"/>
<text x="286.57" y="652.7" fill="#222" stroke="#222" stroke-width="0.25" font-size="9.6" textLength="5.98" lengthAdjust="spacingAndGlyphs" >5</text>
<path transform="translate(293.0,645.4) scale(1.0,1.0)" d="M1.1,0.4V6Q1.1,7.6 0.2,8.5 M1.1,0.5H6.7V8Q6.7,8.3 6.2,8.3H4.5 M1.1,3.3H6.7 M1.1,5.4H6.7" fill="none" stroke="#222" stroke-width="1.0" stroke-linecap="square"/>
<line x1="500.5" y1="641" x2="500.5" y2="643.6" stroke="#8a8a8a"/>
<text x="493.44" y="652.7" fill="#222" stroke="#222" stroke-width="0.25" font-size="9.6" textLength="6.15" lengthAdjust="spacingAndGlyphs" >6</text>
<path transform="translate(500.0,645.4) scale(1.0,1.0)" d="M1.1,0.4V6Q1.1,7.6 0.2,8.5 M1.1,0.5H6.7V8Q6.7,8.3 6.2,8.3H4.5 M1.1,3.3H6.7 M1.1,5.4H6.7" fill="none" stroke="#222" stroke-width="1.0" stroke-linecap="square"/>
</svg></body></html>
